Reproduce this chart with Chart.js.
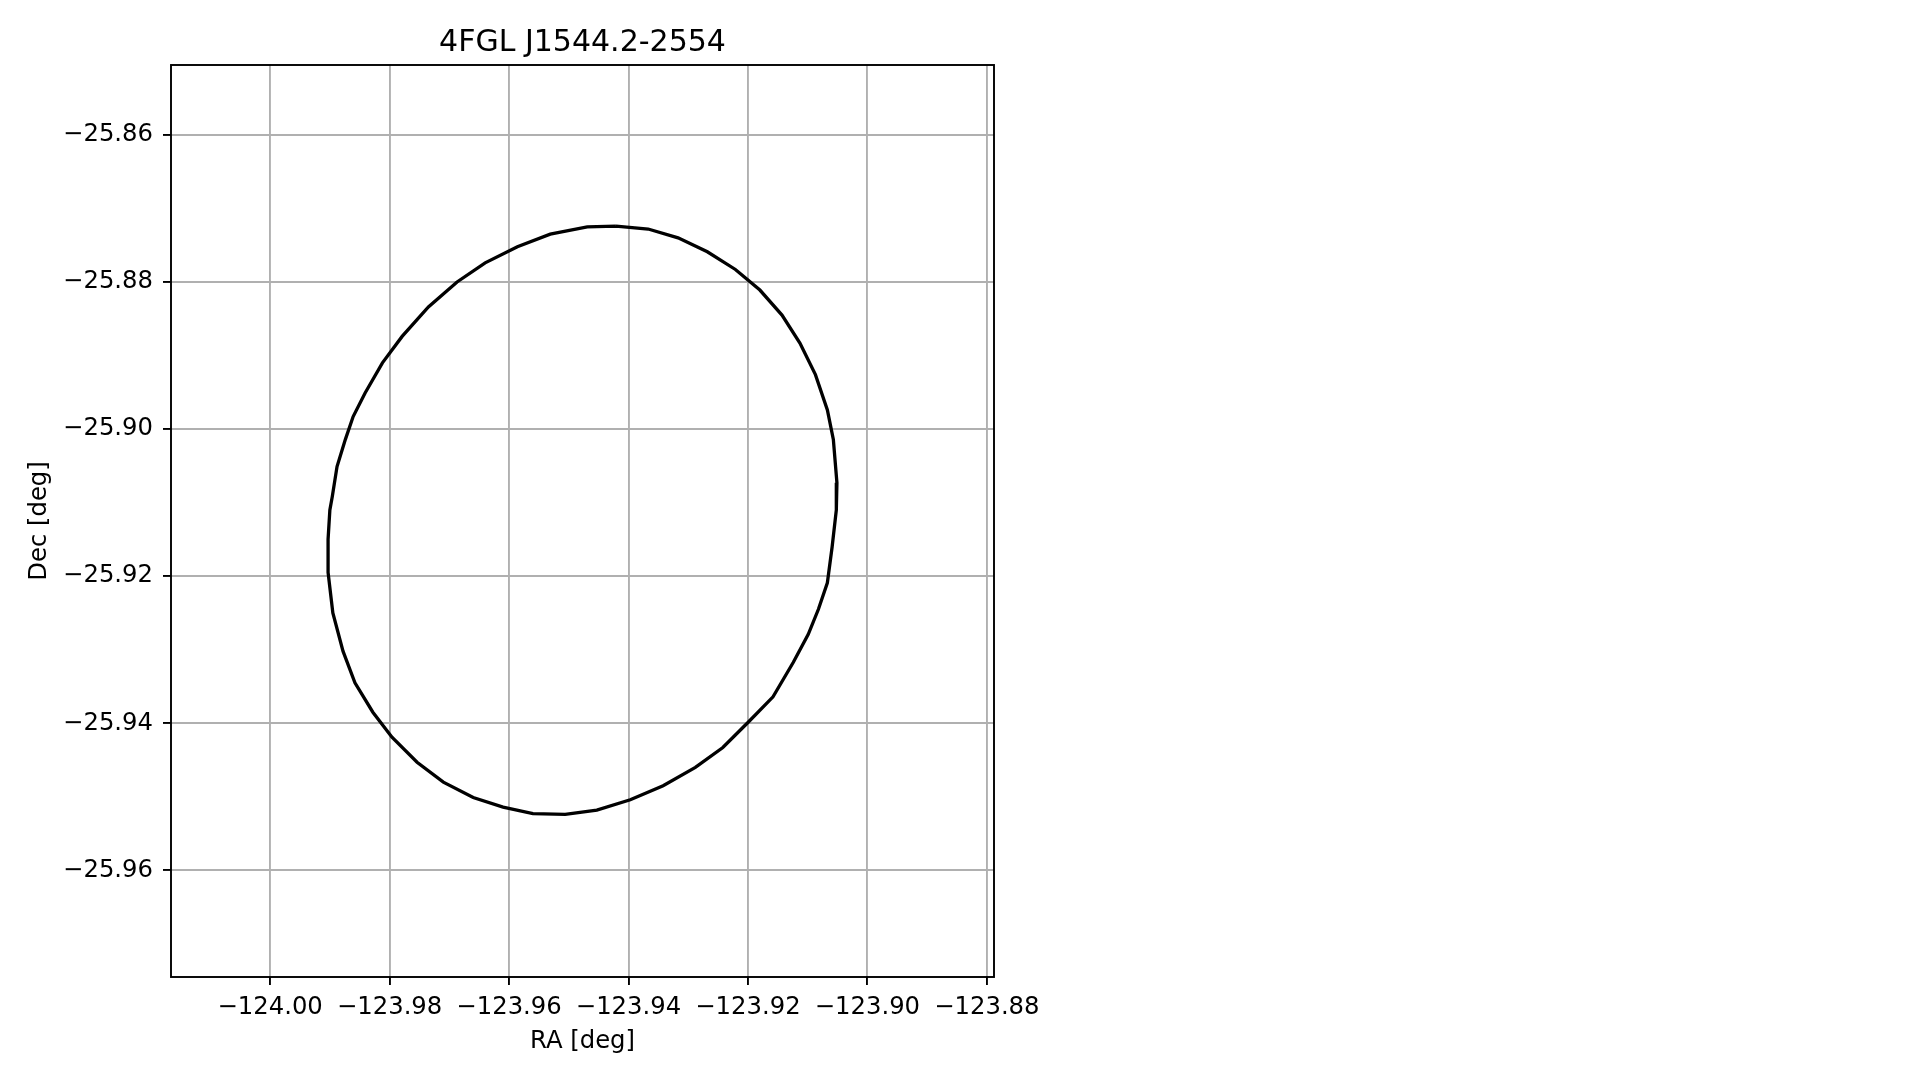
<!doctype html>
<html>
<head>
<meta charset="utf-8">
<title>4FGL J1544.2-2554</title>
<style>
  html, body { margin: 0; padding: 0; background: #fff; }
  canvas { display: block; }
</style>
</head>
<body>
<canvas id="chart" width="1919" height="1080"></canvas>
<script src="https://cdn.jsdelivr.net/npm/chart.js"></script>
<script>
// ellipse outline (RA, Dec in degrees)
const raDeg = [
  -123.9421, -123.9367, -123.9317, -123.9268, -123.9221, -123.9180, -123.9143, -123.9113,
  -123.9087, -123.9067, -123.9057, -123.9051, -123.9052, -123.9059, -123.9067, -123.9082,
  -123.9099, -123.9124, -123.9158, -123.9200, -123.9242, -123.9288, -123.9342, -123.9397,
  -123.9453, -123.9506, -123.9560, -123.9610, -123.9660, -123.9710, -123.9754, -123.9796,
  -123.9828, -123.9858, -123.9878, -123.9895, -123.9903, -123.9903, -123.9900, -123.9896,
  -123.9888, -123.9874, -123.9861, -123.9841, -123.9812, -123.9779, -123.9735, -123.9687,
  -123.9640, -123.9586, -123.9531, -123.9469, -123.9421
]
const decDeg = [
  -25.8724, -25.8728, -25.8740, -25.8759, -25.8783, -25.8811, -25.8845, -25.8883,
  -25.8926, -25.8974, -25.9014, -25.9073, -25.9110, -25.9160, -25.9209, -25.9245,
  -25.9279, -25.9317, -25.9364, -25.9399, -25.9433, -25.9460, -25.9485, -25.9504,
  -25.9518, -25.9524, -25.9523, -25.9514, -25.9501, -25.9480, -25.9453, -25.9419,
  -25.9385, -25.9345, -25.9302, -25.9250, -25.9195, -25.9150, -25.9110, -25.9092,
  -25.9051, -25.9014, -25.8983, -25.8951, -25.8910, -25.8874, -25.8834, -25.8800,
  -25.8774, -25.8752, -25.8735, -25.8725, -25.8724
]

const xTicks = [-124.00, -123.98, -123.96, -123.94, -123.92, -123.90, -123.88]
const yTicks = [-25.86, -25.88, -25.90, -25.92, -25.94, -25.96]

const xRange = [-124.0166, -123.8788]
const yRange = [-25.9745, -25.8505]

const fmt = (v) => v.toFixed(2).replace('-', '\u2212')

const frame = {
  id: 'frame',
  afterDatasetsDraw(chart) {
    const a = chart.chartArea
    const c = chart.ctx
    c.save()
    c.strokeStyle = '#000'
    c.lineWidth = 1.9
    c.strokeRect(a.left, a.top, a.right - a.left, a.bottom - a.top)
    c.restore()
  }
}

const font = { family: 'DejaVu Sans', size: 24.3 }

new Chart(document.getElementById('chart'), {
  type: 'scatter',
  data: {
    datasets: [{
      data: raDeg.map((ra, i) => ({ x: ra, y: decDeg[i] })),
      showLine: true,
      borderColor: '#000',
      borderWidth: 3.3,
      pointRadius: 0,
      tension: 0,
    }]
  },
  options: {
    responsive: false,
    animation: false,
    devicePixelRatio: 1,
    layout: { padding: { left: 0, right: 925, top: 0, bottom: 0 } },
    plugins: {
      legend: { display: false },
      tooltip: { enabled: false },
      title: {
        display: true,
        text: '4FGL J1544.2-2554',
        color: '#000',
        fullSize: false,
        font: { family: 'DejaVu Sans', size: 30, weight: 'normal' },
        padding: { top: 24.8, bottom: 4.2 },
      }
    },
    scales: {
      x: {
        type: 'linear',
        min: xRange[0],
        max: xRange[1],
        afterBuildTicks(scale) { scale.ticks = xTicks.map((v) => ({ value: v })) },
        afterFit(scale) { scale.height = 103 },
        ticks: { color: '#000', font, padding: 8, maxRotation: 0, callback: fmt },
        grid: { color: '#b0b0b0', lineWidth: 1.9, tickColor: '#000', tickLength: 8, tickWidth: 1.9 },
        border: { display: false },
        title: { display: true, text: 'RA [deg]', color: '#000', font, padding: { top: 0, bottom: 24.0 } },
      },
      y: {
        type: 'linear',
        min: yRange[0],
        max: yRange[1],
        afterBuildTicks(scale) { scale.ticks = yTicks.map((v) => ({ value: v })) },
        afterFit(scale) { scale.width = 171 },
        ticks: { color: '#000', font, padding: 10, callback: fmt },
        grid: { color: '#b0b0b0', lineWidth: 1.9, tickColor: '#000', tickLength: 8, tickWidth: 1.9 },
        border: { display: false },
        title: { display: true, text: 'Dec [deg]', color: '#000', font, padding: { top: 24.8, bottom: 0 } },
      }
    }
  },
  plugins: [frame]
})
</script>
</body>
</html>
